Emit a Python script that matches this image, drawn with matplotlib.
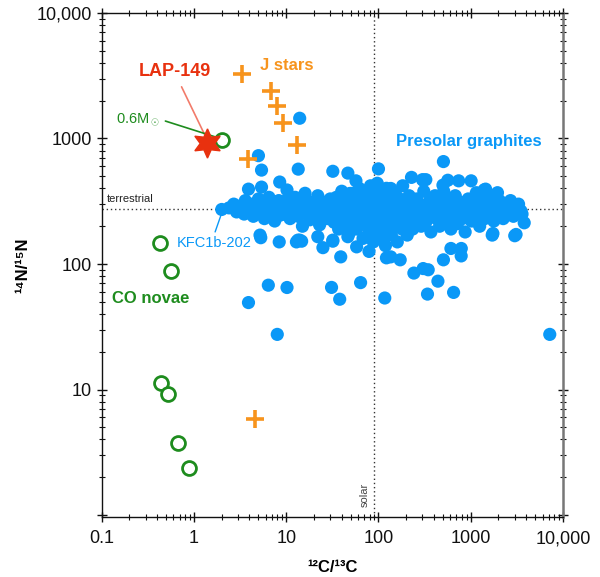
import matplotlib
matplotlib.use('Agg')
import matplotlib.pyplot as plt
from matplotlib.ticker import FixedLocator, FixedFormatter, LogLocator, NullFormatter

plt.rcParams['font.family'] = ['Liberation Sans', 'DejaVu Sans']
plt.rcParams['mathtext.fontset'] = 'custom'
plt.rcParams['mathtext.rm'] = 'Liberation Sans'

# presolar graphites, (12C/13C, 14N/15N)
band_low = [
    (2.4, 280), (2.7, 300), (2.9, 260), (3.2, 290), (3.5, 250), (3.6, 320), (3.9, 275), (4.2, 300),
    (4.4, 240), (4.7, 285), (5.0, 330), (5.2, 260), (5.6, 300), (5.8, 230), (6.1, 280), (6.5, 340),
    (6.8, 255), (7.2, 300), (7.5, 220), (7.9, 280), (8.3, 320), (8.6, 245),
    (9, 290), (9.5, 250), (10, 320), (10.5, 270), (11, 230), (11.5, 300), (12, 260), (12.5, 340),
    (13, 285), (13.5, 240), (14, 310), (14.5, 265), (15, 200), (15.5, 295), (16, 330), (17, 255),
    (17.5, 285), (18, 225), (19, 310), (19.5, 270), (20, 240), (21, 295), (22, 350), (22.5, 265),
    (23, 205), (24, 285), (25, 245), (26, 310), (27, 270), (28, 230), (29, 290), (30, 330),
]
band_mid = [
    (31, 260), (32, 300), (33, 215), (34, 280), (35, 340), (36, 245), (37, 190), (38, 290), (39, 265),
    (40, 380), (41, 230), (42, 310), (43, 270), (44, 200), (45, 290), (46, 250), (47, 330), (48, 175),
    (50, 280), (51, 240), (52, 300), (53, 365), (55, 215), (56, 270), (57, 320), (58, 190), (60, 285),
    (61, 250), (62, 400), (64, 230), (65, 310), (66, 270), (68, 160), (69, 340), (70, 290), (72, 210),
    (73, 255), (75, 380), (76, 300), (78, 240), (79, 180), (80, 270), (82, 420), (83, 320), (85, 220),
    (86, 290), (88, 150), (90, 260), (91, 350), (92, 200), (94, 300), (95, 240), (97, 440), (98, 180),
    (100, 280), (102, 330), (104, 220), (105, 260), (107, 160), (108, 300), (110, 380), (112, 240),
    (114, 200), (115, 270), (117, 320), (119, 140), (120, 290), (122, 230), (124, 350), (126, 190),
    (128, 260), (130, 300), (132, 210), (134, 275), (136, 400), (138, 170), (140, 245), (142, 320),
    (145, 285), (148, 200), (150, 260), (153, 360), (156, 230), (158, 300), (160, 150), (163, 270),
    (166, 210), (170, 330), (173, 250), (176, 290), (180, 190), (183, 420), (186, 270), (190, 230),
    (195, 310), (200, 250), (205, 170), (210, 290), (215, 350), (220, 220), (225, 270), (230, 310),
    (235, 190), (240, 250), (245, 290),
]
band_high = [
    (255, 230), (260, 330), (270, 270), (280, 300), (290, 200), (300, 250), (310, 380), (320, 290),
    (330, 220), (345, 270), (360, 320), (370, 180), (385, 250), (400, 290), (410, 350), (425, 230),
    (440, 270), (460, 200), (475, 310), (490, 250), (510, 380), (530, 280), (550, 220), (570, 330),
    (590, 260), (610, 190), (630, 300), (650, 240), (680, 350), (700, 280), (720, 210), (750, 260),
    (780, 310), (810, 230), (840, 290), (870, 180), (900, 250), (940, 330), (980, 270), (1020, 220),
    (1060, 300), (1100, 240), (1150, 370), (1200, 280), (1250, 200), (1300, 260), (1360, 320),
    (1420, 230), (1480, 290), (1550, 250), (1620, 340), (1700, 270), (1780, 220), (1850, 300),
    (1950, 250), (2050, 320), (2150, 270), (2250, 230), (2400, 300), (2500, 260), (2700, 320),
    (2900, 240), (3100, 280), (3300, 300), (3600, 250),
]
scattered = [
    (14, 1450), (5.0, 730), (5.4, 560), (13.5, 570), (8.5, 450), (3.9, 395), (5.4, 410), (10.2, 389),
    (16, 366), (5.2, 170), (13.4, 155), (5.3, 162), (8.4, 150), (12.9, 150), (14.7, 152), (25, 135),
    (32, 152), (39, 114), (58, 137), (79, 126), (122, 112), (6.4, 67.8), (10.2, 65.0), (3.9, 49.3),
    (31, 65.1), (38, 52.4), (64, 71.1), (8.0, 27.5), (117, 53.6), (242, 84.7), (305, 92), (346, 90),
    (506, 108), (788, 116), (441, 73), (340, 57.6), (652, 59.4), (136, 114), (172, 108), (610, 133),
    (790, 133), (7190, 27.5), (1710, 170), (3000, 168), (32, 548), (46.6, 530), (57, 460), (100, 573),
    (51, 365), (122, 401), (228, 490), (305, 465), (22, 165), (32, 155), (46.6, 165), (506, 655),
    (326, 470), (565, 465), (740, 460), (1010, 460), (1450, 395), (1950, 370), (2650, 285),
    (3500, 265), (3800, 213), (3100, 172), (1740, 175), (300, 470), (500, 425), (1400, 390),
    (49, 365), (14, 155),
]
kfc_x, kfc_y = 2.0, 272   # KFC1b-202

# J stars (orange crosses)
jstar_x = [3.3, 6.8, 7.9, 9.2, 13.1, 3.85, 4.6]
jstar_y = [3270, 2390, 1815, 1330, 887, 687, 5.8]

# CO novae models (open green circles)
nova_x = [0.43, 0.56, 0.44, 0.52, 0.67, 0.88]
nova_y = [147, 88, 11.3, 9.2, 3.75, 2.37]
nova06_x, nova06_y = 2.0, 970   # 0.6 Msun model

# LAP-149
lap_x, lap_y = 1.38, 920

terrestrial_N = 272
solar_C = 89

blue = '#0a98f7'
orange = '#f7941d'
green = '#1e8c1e'
red = '#e8310f'

graphites = band_low + band_mid + band_high + scattered + [(kfc_x, kfc_y)]
graph_x = [p[0] for p in graphites]
graph_y = [p[1] for p in graphites]

fig = plt.figure(figsize=(6, 5.77), dpi=100)
ax = fig.add_axes([0.1695, 0.104, 0.7688, 0.8735])
ax.set_xscale('log')
ax.set_yscale('log')
ax.set_xlim(0.1, 10000)
ax.set_ylim(0.965, 10000)

ax.axhline(terrestrial_N, color='#333333', lw=1, ls=(0, (1, 2)), zorder=1)
ax.axvline(solar_C, color='#333333', lw=1, ls=(0, (1, 2)), zorder=1)

ax.scatter(graph_x, graph_y, s=90, color=blue, edgecolors='none', zorder=3)
ax.plot(jstar_x, jstar_y, '+', color=orange, markersize=13, mew=2.6, ls='none', zorder=4)
ax.plot(nova_x, nova_y, 'o', mfc='white', mec=green, markersize=10, mew=2, ls='none', zorder=4)
ax.plot([nova06_x], [nova06_y], 'o', mfc='none', mec=green, markersize=10, mew=2, ls='none', zorder=4)
ax.plot([lap_x], [lap_y], marker=(6, 1, 0), color=red, markersize=21, ls='none', zorder=5)

# labels
ax.annotate('LAP-149', xy=(1.3, 1080), xytext=(0.62, 3400), color=red, fontsize=13,
            fontweight='bold', ha='center', va='center',
            arrowprops=dict(arrowstyle='-', color='#f27b6a', lw=1.2, shrinkA=3, shrinkB=0,
                            relpos=(0.55, 0.0)))
ax.annotate(r'0.6M$_\odot$', xy=(1.85, 1010), xytext=(0.247, 1400), color=green, fontsize=10.5,
            ha='center', va='center',
            arrowprops=dict(arrowstyle='-', color=green, lw=1.2, shrinkA=2, shrinkB=0,
                            relpos=(1.0, 0.55)))
ax.annotate('KFC1b-202', xy=(kfc_x, 255), xytext=(0.655, 147), color=blue, fontsize=10.5,
            ha='left', va='center',
            arrowprops=dict(arrowstyle='-', color=blue, lw=1, shrinkA=1, shrinkB=0,
                            relpos=(0.49, 1.0)))
ax.text(5.2, 3850, 'J stars', color=orange, fontsize=12, fontweight='bold', ha='left', va='center')
ax.text(957, 955, 'Presolar graphites', color=blue, fontsize=12, fontweight='bold',
        ha='center', va='center')
ax.text(0.129, 53.6, 'CO novae', color=green, fontsize=12, fontweight='bold', ha='left', va='center')
ax.text(0.114, 300, 'terrestrial', color='#222222', fontsize=8, ha='left', va='bottom')
ax.text(71, 1.45, 'solar', color='#444444', fontsize=8, rotation=90, ha='center', va='center')

# ticks
xt = [0.1, 1, 10, 100, 1000, 10000]
xt_labels = ['0.1', '1', '10', '100', '1000', '10,000']
yt = [10, 100, 1000, 10000]
yt_labels = ['10', '100', '1000', '10,000']
ax.xaxis.set_major_locator(FixedLocator(xt))
ax.xaxis.set_major_formatter(FixedFormatter(xt_labels))
ax.yaxis.set_major_locator(FixedLocator([1] + yt))
ax.yaxis.set_major_formatter(FixedFormatter([''] + yt_labels))
ax.xaxis.set_minor_locator(LogLocator(base=10, subs=range(2, 10), numticks=20))
ax.yaxis.set_minor_locator(LogLocator(base=10, subs=range(2, 10), numticks=20))
ax.xaxis.set_minor_formatter(NullFormatter())
ax.yaxis.set_minor_formatter(NullFormatter())
ax.tick_params(which='both', direction='inout', top=True, right=True, labelsize=13, colors='#111111')
ax.tick_params(which='major', length=7, width=1)
ax.tick_params(which='minor', length=4, width=0.8)
ax.tick_params(axis='x', pad=6)

for s in ['left', 'top', 'bottom']:
    ax.spines[s].set_color('#111111')
    ax.spines[s].set_linewidth(1)
ax.spines['right'].set_color('#777777')
ax.spines['right'].set_linewidth(1.8)

ax.set_xlabel('¹²C/¹³C', fontsize=12, fontweight='bold')
ax.set_ylabel('¹⁴N/¹⁵N', fontsize=12, fontweight='bold')
ax.xaxis.set_label_coords(0.5, -0.086)
ax.yaxis.set_label_coords(-0.155, 0.5)

fig.savefig('out.png', dpi=100)
